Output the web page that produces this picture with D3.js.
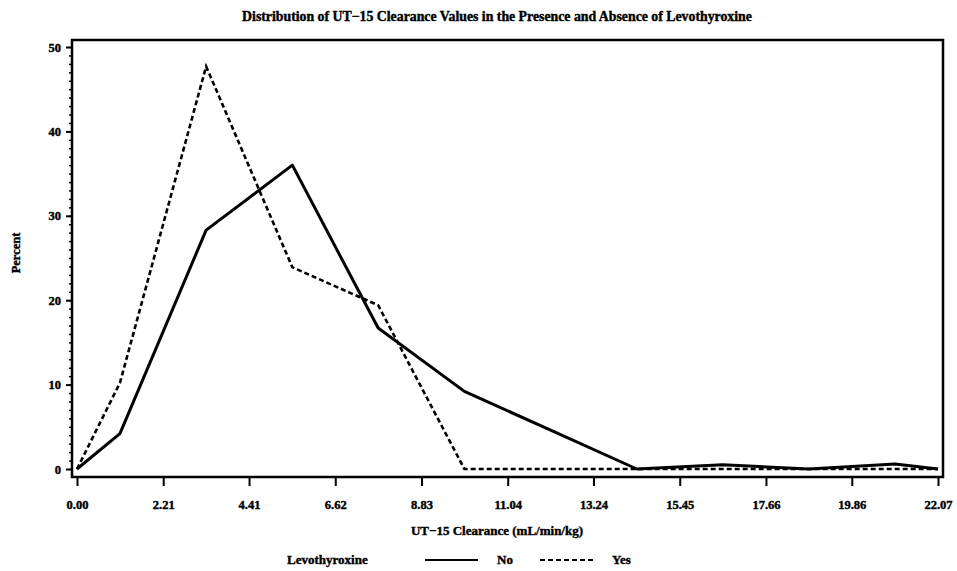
<!DOCTYPE html>
<html lang="en">
<head>
    <meta charset="UTF-8">
    <title>UT-15 Clearance</title>
    <script src="https://cdn.jsdelivr.net/npm/d3@7/dist/d3.min.js"></script>
    <style>
        body { margin: 0; background: #fff; }
        svg { width: 957px; height: 571px; display: block; }
        text { font-family: "Liberation Serif", "DejaVu Serif", serif; font-weight: bold; fill: #000;
               stroke: #000; stroke-width: 0.4px; }
    </style>
</head>
<body>
    <svg></svg>

    <script>
        // histogram midpoints (mL/min/kg)
        const clearance = [0, 1.10, 3.31, 5.52, 7.72, 9.93, 12.14, 14.35, 16.55, 18.76, 20.97, 22.07];
        const pctNo  = [0, 4.2, 28.3, 36.0, 16.7, 9.2, 4.6, 0, 0.5, 0, 0.6, 0];
        const pctYes = [0, 10.2, 47.7, 23.9, 19.4, 0, 0, 0, 0, 0, 0, 0];
        const xTicks = [0, 2.21, 4.41, 6.62, 8.83, 11.04, 13.24, 15.45, 17.66, 19.86, 22.07];
        const yTicks = [0, 10, 20, 30, 40, 50];

        const svg = d3.select('svg');
        const frame = {left: 72, top: 40, right: 943, bottom: 477};

        const x = d3.scaleLinear().domain([0, 22.07]).range([77, 938]);
        const y = d3.scaleLinear().domain([0, 50]).range([469, 47]);

        svg.append('text')
            .attr('x', 497).attr('y', 21)
            .attr('text-anchor', 'middle')
            .style('font-size', '13.8px')
            .text('Distribution of UT\u221215 Clearance Values in the Presence and Absence of Levothyroxine');

        // x axis
        const xAxis = svg.append('g')
            .attr('transform', `translate(0, ${frame.bottom})`)
            .call(d3.axisBottom(x).tickValues(xTicks).tickSize(9).tickFormat(d3.format('.2f')));
        xAxis.select('.domain').remove();
        xAxis.selectAll('.tick line').attr('stroke', '#000').attr('stroke-width', 2);
        xAxis.selectAll('.tick text').attr('dy', 0).attr('y', 32).style('font-size', '12.5px');

        // y axis with minor ticks
        const yMinor = svg.append('g')
            .attr('transform', `translate(${frame.left}, 0)`)
            .call(d3.axisLeft(y).tickValues(d3.range(0, 51, 1)).tickSize(3).tickFormat(''));
        yMinor.select('.domain').remove();
        yMinor.selectAll('.tick line').attr('stroke', '#000').attr('stroke-width', 1.5);

        const yAxis = svg.append('g')
            .attr('transform', `translate(${frame.left}, 0)`)
            .call(d3.axisLeft(y).tickValues(yTicks).tickSize(6).tickPadding(5));
        yAxis.select('.domain').remove();
        yAxis.selectAll('.tick line').attr('stroke', '#000').attr('stroke-width', 2);
        yAxis.selectAll('.tick text').style('font-size', '12.5px');

        svg.append('rect')
            .attr('x', frame.left).attr('y', frame.top)
            .attr('width', frame.right - frame.left)
            .attr('height', frame.bottom - frame.top)
            .attr('fill', 'none').attr('stroke', '#000').attr('stroke-width', 2.5);

        svg.append('text')
            .attr('transform', 'translate(20, 253) rotate(-90)')
            .attr('text-anchor', 'middle')
            .style('font-size', '12.5px')
            .text('Percent');

        svg.append('text')
            .attr('x', 497).attr('y', 535)
            .attr('text-anchor', 'middle')
            .style('font-size', '13px')
            .text('UT\u221215 Clearance (mL/min/kg)');

        const line = d3.line().x((d, i) => x(clearance[i])).y(d => y(d));

        svg.append('path')
            .datum(pctYes)
            .attr('d', line)
            .attr('fill', 'none').attr('stroke', '#000')
            .attr('stroke-width', 2.6)
            .attr('stroke-dasharray', '5,3');

        svg.append('path')
            .datum(pctNo)
            .attr('d', line)
            .attr('fill', 'none').attr('stroke', '#000')
            .attr('stroke-width', 3)
            .attr('stroke-linejoin', 'round');

        // legend
        const legend = svg.append('g').attr('transform', 'translate(0, 564)');
        legend.append('text').attr('x', 287).attr('y', 0).style('font-size', '13px').text('Levothyroxine');
        legend.append('line').attr('x1', 425).attr('x2', 478).attr('y1', -4).attr('y2', -4)
            .attr('stroke', '#000').attr('stroke-width', 2);
        legend.append('text').attr('x', 497).attr('y', 0).style('font-size', '13px').text('No');
        legend.append('line').attr('x1', 540).attr('x2', 593).attr('y1', -4).attr('y2', -4)
            .attr('stroke', '#000').attr('stroke-width', 2).attr('stroke-dasharray', '5,3');
        legend.append('text').attr('x', 612).attr('y', 0).style('font-size', '13px').text('Yes');
    </script>
</body>
</html>
